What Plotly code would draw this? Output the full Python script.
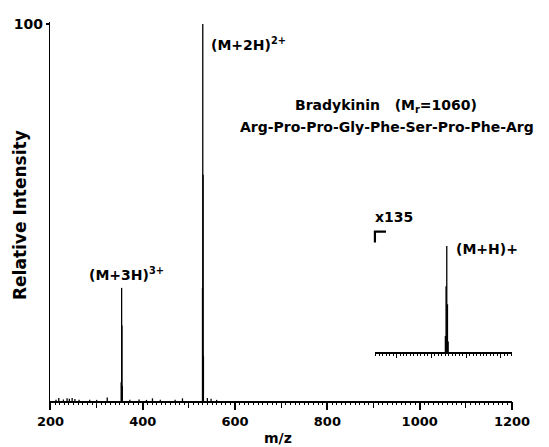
import plotly.graph_objects as go

# ---- data ----
# main spectrum: peak centres (m/z) and relative intensities (%)
peak_mz = [212, 218, 228, 236, 241, 247, 253, 262, 285, 300, 323, 353.2, 354.2, 354.9, 355.6,
           372, 392, 408, 421, 438, 470, 486, 529.4, 530.0, 530.7, 531.4, 540, 548, 560]
peak_int = [0.3, 0.8, 0.4, 0.7, 0.6, 0.8, 0.5, 0.3, 0.3, 0.3, 0.9, 5.0, 30.0, 20.0, 4.0,
            0.3, 0.4, 0.3, 0.7, 0.3, 0.3, 0.7, 30.0, 100.0, 60.0, 12.0, 0.8, 0.6, 0.3]

# inset (x135): (M+H)+ region
inset_mz = [1060.1, 1060.6, 1061.1, 1061.6, 1062.1]
inset_int = [15.0, 62.0, 100.0, 45.0, 10.0]

x_label_vals = [200, 400, 600, 800, 1000, 1200]
x_label_text = ["200", "400", "600", "800", "1000", "1200"]
x_mid_vals = [300, 500, 700, 900, 1100]

FONT = "DejaVu Sans"
L, R, T, B = 50, 37, 22, 46
W, H = 549, 447
PW, PH = W - L - R, H - T - B


def px_x(p):
    return (p - L) / PW


def px_y(p):
    return (H - B - p) / PH


def sticks(mz, inten):
    xs, ys = [], []
    for m, h in zip(mz, inten):
        xs += [m, m, None]
        ys += [0, h, None]
    return xs, ys


fig = go.Figure()
mx, my = sticks(peak_mz, peak_int)
fig.add_trace(go.Scatter(x=mx, y=my, mode="lines", line=dict(color="black", width=1.3),
                         hoverinfo="skip", showlegend=False))
ix, iy = sticks(inset_mz, inset_int)
fig.add_trace(go.Scatter(x=ix, y=iy, mode="lines", line=dict(color="black", width=1.3),
                         xaxis="x2", yaxis="y2", hoverinfo="skip", showlegend=False))
# carrier trace for the fine-tick overlay axis
fig.add_trace(go.Scatter(x=[None], y=[None], xaxis="x3", yaxis="y", mode="lines",
                         hoverinfo="skip", showlegend=False))

fig.update_layout(
    width=W, height=H,
    margin=dict(l=L, r=R, t=T, b=B),
    plot_bgcolor="white", paper_bgcolor="white",
    font=dict(family=FONT, color="black", size=13),
    xaxis=dict(range=[199, 1200], showgrid=False, zeroline=False, automargin=False,
               showline=True, linecolor="black", linewidth=2,
               ticks="outside", ticklen=7, tickwidth=1.6, tickcolor="black",
               tickvals=x_label_vals, ticktext=x_label_text,
               tickfont=dict(size=13, family=FONT, weight="bold", color="black"),
               minor=dict(tickvals=x_mid_vals, ticks="outside", ticklen=5, tickwidth=1.3,
                          tickcolor="black")),
    xaxis3=dict(overlaying="x", anchor="y", side="bottom", range=[199, 1200],
                showgrid=False, zeroline=False, automargin=False, showline=False,
                ticks="outside", ticklen=3, tickwidth=1, tickcolor="black",
                dtick=10, tick0=200, showticklabels=False),
    yaxis=dict(range=[0, 100.5], showgrid=False, zeroline=False, automargin=False,
               showline=True, linecolor="black", linewidth=1.2,
               ticks="outside", ticklen=3, tickwidth=1.5, tickcolor="black",
               tickvals=[100], ticktext=["100"],
               tickfont=dict(size=14, family=FONT, weight="bold", color="black")),
    xaxis2=dict(domain=[px_x(375), 1.0], anchor="y2", range=[1009.5, 1108], automargin=False,
                showgrid=False, zeroline=False, showline=True, linecolor="black", linewidth=2,
                ticks="outside", ticklen=4, tickwidth=1.2, tickcolor="black",
                dtick=25, tick0=1000, showticklabels=False,
                minor=dict(dtick=2.5, ticks="outside", ticklen=2, tickwidth=1, tickcolor="black")),
    yaxis2=dict(domain=[px_y(352), px_y(246)], anchor="x2", range=[0, 100], automargin=False,
                showgrid=False, zeroline=False, showline=False, showticklabels=False, ticks=""),
)

af = dict(family=FONT, size=14, color="black")
fig.add_annotation(x=px_x(20), y=px_y(215), xref="paper", yref="paper", textangle=-90,
                   xanchor="center", yanchor="middle", showarrow=False,
                   text="<b>Relative Intensity</b>", font=dict(family=FONT, size=17, color="black"))
fig.add_annotation(x=px_x(278), y=px_y(438), xref="paper", yref="paper",
                   xanchor="center", yanchor="middle", showarrow=False,
                   text="<b>m/z</b>", font=dict(family=FONT, size=14, color="black"))
fig.add_annotation(x=543, y=94.7, xref="x", yref="y", xanchor="left", yanchor="middle",
                   showarrow=False, text="<b>(M+2H)<sup>2+</sup></b>", font=af)
fig.add_annotation(x=364, y=33.8, xref="x", yref="y", xanchor="center", yanchor="middle",
                   showarrow=False, text="<b>(M+3H)<sup>3+</sup></b>", font=af)
fig.add_annotation(x=1066.5, y=97, xref="x2", yref="y2", xanchor="left", yanchor="middle",
                   showarrow=False, text="<b>(M+H)+</b>", font=af)
fig.add_annotation(x=px_x(386), y=px_y(106), xref="paper", yref="paper", xanchor="center",
                   yanchor="middle", showarrow=False,
                   text="<b>Bradykinin   (M<sub>r</sub>=1060)</b>", font=af)
fig.add_annotation(x=px_x(387), y=px_y(127), xref="paper", yref="paper", xanchor="center",
                   yanchor="middle", showarrow=False,
                   text="<b>Arg-Pro-Pro-Gly-Phe-Ser-Pro-Phe-Arg</b>", font=af)
fig.add_annotation(x=899, y=48.8, xref="x", yref="y", xanchor="left", yanchor="middle",
                   showarrow=False, text="<b>x135</b>", font=af)

# bracket marking the start of the x135 inset
fig.add_shape(type="path", xref="x", yref="y", path="M 903,42 L 903,44.9 L 927,44.9",
              line=dict(color="black", width=2.2))

fig.write_html("out.html")
